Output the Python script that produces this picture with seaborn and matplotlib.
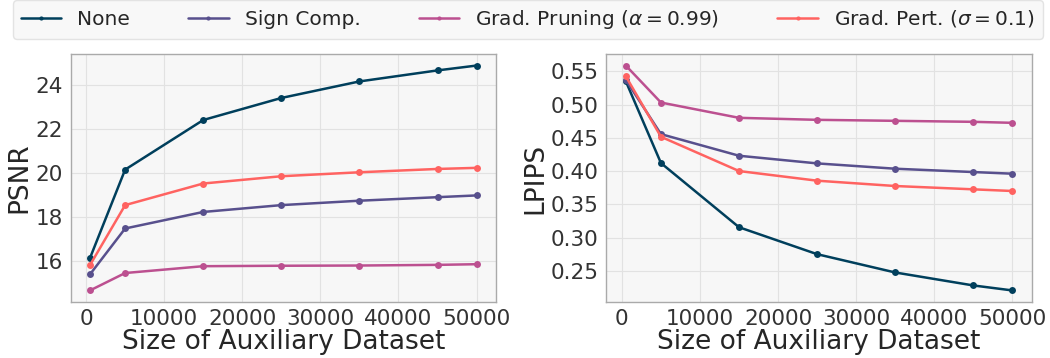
import pandas as pd
import matplotlib.pyplot as plt
import seaborn as sns

# Datos
sizes = [500, 5000, 15000, 25000, 35000, 45000, 50000]
methods = ['None', 'Sign Comp.', r'Grad. Pruning ($\alpha=0.99$)', r'Grad. Pert. ($\sigma=0.1$)']
colors = ['#003f5c', '#58508d', '#bc5090', '#ff6361']

psnr_none = [16.14, 20.15, 22.40, 23.40, 24.15, 24.65, 24.87]
psnr_sign = [15.40, 17.48, 18.23, 18.54, 18.74, 18.90, 18.98]
psnr_prune = [14.67, 15.46, 15.77, 15.79, 15.80, 15.83, 15.86]
psnr_pert = [15.82, 18.54, 19.52, 19.85, 20.03, 20.18, 20.23]

lpips_none = [0.535, 0.412, 0.3155, 0.275, 0.2475, 0.228, 0.2205]
lpips_sign = [0.537, 0.4555, 0.423, 0.4115, 0.4035, 0.3985, 0.396]
lpips_prune = [0.5586, 0.503, 0.480, 0.477, 0.4755, 0.474, 0.4725]
lpips_pert = [0.5425, 0.4515, 0.400, 0.3855, 0.3775, 0.3725, 0.370]

psnr_ticks = [16, 18, 20, 22, 24]
lpips_ticks = [0.25, 0.30, 0.35, 0.40, 0.45, 0.50, 0.55]
size_ticks = [0, 10000, 20000, 30000, 40000, 50000]


def to_long(series, metric):
    rows = []
    for method, values in zip(methods, series):
        for s, v in zip(sizes, values):
            rows.append({'size': s, 'method': method, metric: v})
    return pd.DataFrame(rows)


df_psnr = to_long([psnr_none, psnr_sign, psnr_prune, psnr_pert], 'PSNR')
df_lpips = to_long([lpips_none, lpips_sign, lpips_prune, lpips_pert], 'LPIPS')

sns.set_style("whitegrid", {
    "axes.facecolor": "#f7f7f7",
    "axes.edgecolor": "#aaaaaa",
    "grid.color": "#e2e2e2",
})
plt.rcParams['font.family'] = ['DejaVu Sans']

fig, axes = plt.subplots(1, 2, figsize=(10.5, 3.58), dpi=100)
palette = dict(zip(methods, colors))

for ax, df, metric in [(axes[0], df_psnr, 'PSNR'), (axes[1], df_lpips, 'LPIPS')]:
    sns.lineplot(data=df, x='size', y=metric, hue='method', palette=palette,
                 hue_order=methods, marker='o', markersize=5, markeredgewidth=0,
                 linewidth=1.8, ax=ax, legend=(metric == 'PSNR'))
    ax.set_xlabel('Size of Auxiliary Dataset', fontsize=19, labelpad=0)
    ax.set_ylabel(metric, fontsize=19, labelpad=2)
    ax.set_xticks(size_ticks)
    ax.tick_params(labelsize=15.5, colors='#333333', pad=2)
    for sp in ax.spines.values():
        sp.set_linewidth(1.0)

axes[0].set_yticks(psnr_ticks)
axes[1].set_yticks(lpips_ticks)
axes[1].set_yticklabels([f'{t:.2f}' for t in lpips_ticks])

handles, labels = axes[0].get_legend_handles_labels()
axes[0].get_legend().remove()
leg = fig.legend(handles, labels, loc='lower left', ncol=4, mode='expand',
                 bbox_to_anchor=(0.012, 0.892, 0.981, 0.1), fontsize=14.5,
                 frameon=True, facecolor='#f7f7f7', edgecolor='#dddddd',
                 handlelength=2.0, borderaxespad=0)
for line in leg.get_lines():
    line.set_markersize(3)

plt.subplots_adjust(left=0.0673, right=0.9826, bottom=0.1573, top=0.8483, wspace=0.26)
plt.savefig('out.png', dpi=100)
